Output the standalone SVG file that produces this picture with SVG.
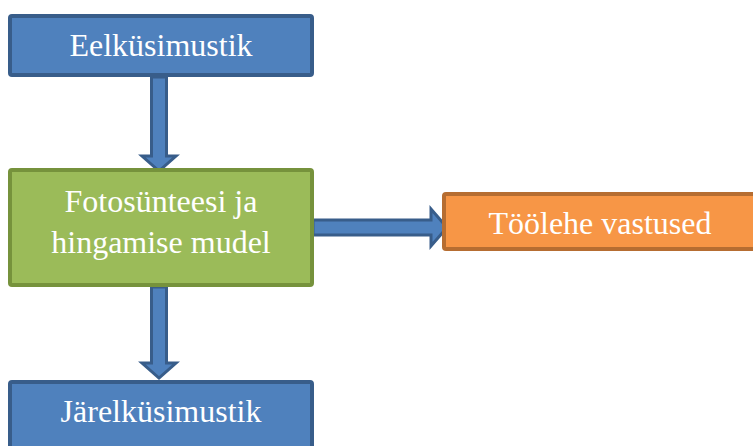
<svg xmlns="http://www.w3.org/2000/svg" width="753" height="446" viewBox="0 0 753 446">
<style>
.t{font-family:"Liberation Serif","Times New Roman",serif;font-size:32px;fill:#fff;text-anchor:middle}
.blue{fill:#4F81BD;stroke:#385D8A;stroke-width:4}
.green{fill:#9BBB59;stroke:#76923C;stroke-width:4}
.orange{fill:#F79646;stroke:#B66D31;stroke-width:4}
.arr{fill:#4F81BD;stroke:#385D8A;stroke-width:3;stroke-linejoin:miter}
</style>
<rect width="753" height="446" fill="#fff"/>
<g id="connectors">
<polygon class="arr" points="151.5,77 166.5,77 166.5,156 176,156 159,171 142,156 151.5,156"/>
<polygon class="arr" points="313,220 431,220 431,209 447,227.5 431,246 431,235 313,235"/>
<polygon class="arr" points="151.5,287 166.5,287 166.5,363 176,363 159,378 142,363 151.5,363"/>
</g>
<g id="eelkusimustik">
<rect class="blue" x="10" y="16" width="302" height="59" rx="2"/>
<text class="t" x="161" y="56">Eelküsimustik</text>
</g>
<g id="fotosuntees">
<rect class="green" x="10" y="170" width="302" height="115" rx="2"/>
<text class="t" x="161" y="212">Fotosünteesi ja</text>
<text class="t" x="161" y="253">hingamise mudel</text>
</g>
<g id="toolehe">
<rect class="orange" x="444" y="194" width="320" height="55" rx="2"/>
<text class="t" x="600" y="234">Töölehe vastused</text>
</g>
<g id="jarelkusimustik">
<rect class="blue" x="10" y="382" width="302" height="80" rx="2"/>
<text class="t" x="161" y="422">Järelküsimustik</text>
</g>
</svg>
